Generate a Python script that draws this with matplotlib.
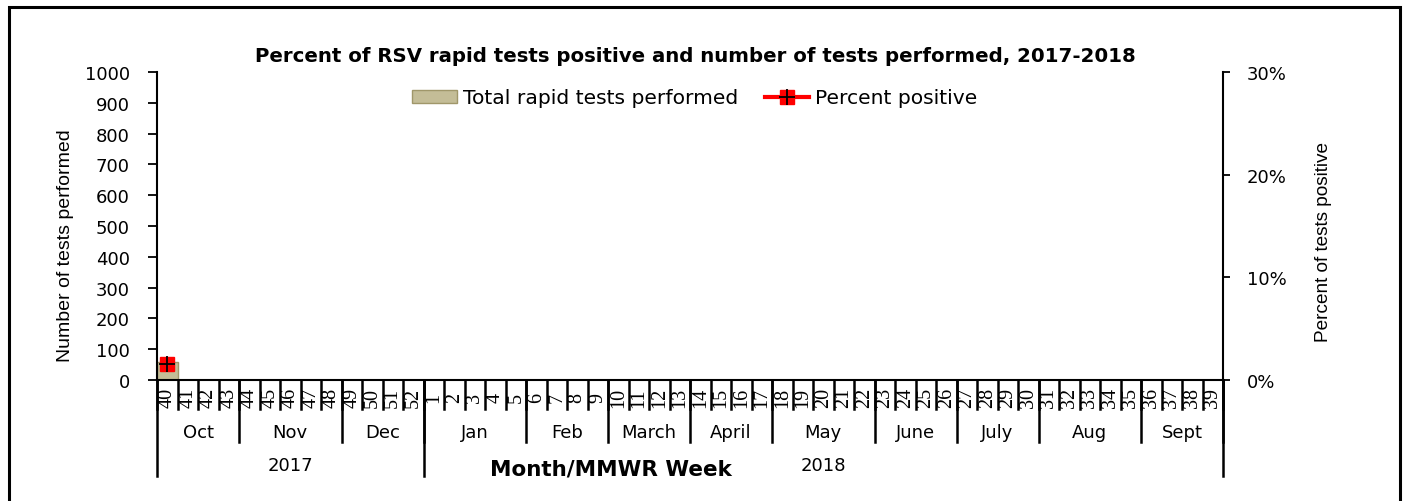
import numpy as np
import matplotlib
matplotlib.use("Agg")
import matplotlib.pyplot as plt
from matplotlib.patches import Rectangle
from matplotlib.legend_handler import HandlerTuple

# ---------------- data ----------------
weeks = [str(w) for w in range(40, 53)] + [str(w) for w in range(1, 40)]
tests_performed = [59] + [np.nan] * 51
percent_positive = [1.6] + [np.nan] * 51
months = ["Oct", "Nov", "Dec", "Jan", "Feb", "March", "April", "May",
          "June", "July", "Aug", "Sept"]
month_weeks = [4, 5, 4, 5, 4, 4, 4, 5, 4, 4, 5, 4]
years = ["2017", "2018"]
year_weeks = [13, 39]
left_ticks = list(range(0, 1001, 100))
right_ticks = [0, 10, 20, 30]

title = "Percent of RSV rapid tests positive and number of tests performed, 2017-2018"

# ---------------- figure ----------------
W, H = 1403, 502
fig = plt.figure(figsize=(W / 100, H / 100), dpi=100)
fig.patch.set_facecolor("white")

# outer frame
fig.add_artist(Rectangle((9 / W, -0.1), (1400 - 9) / W, 1.1 - 8 / H,
                         transform=fig.transFigure, fill=False,
                         edgecolor="black", linewidth=2.2))

ax_l, ax_r, ax_t, ax_b = 157, 1223, 73, 381
ax = fig.add_axes([ax_l / W, 1 - ax_b / H, (ax_r - ax_l) / W, (ax_b - ax_t) / H])
ax2 = ax.twinx()

n = len(weeks)
x = np.arange(n)
bars = ax.bar(x, tests_performed, width=1.0, color="#C4BD97",
              edgecolor="#A0976A", linewidth=1.0, label="Total rapid tests performed")
ax.set_xlim(-0.5, n - 0.5)
ax.set_ylim(0, 1000)
ax.set_yticks(left_ticks)
ax.set_yticklabels([str(t) for t in left_ticks], fontsize=13, family="DejaVu Sans")
ax.tick_params(axis="y", direction="out", length=6.5, width=1.3, pad=13)
ax.set_xticks([])

for s in ["top", "right"]:
    ax.spines[s].set_visible(False)
    ax2.spines[s].set_visible(False)
ax2.spines["left"].set_visible(False)
ax2.spines["bottom"].set_visible(False)
ax.spines["left"].set_linewidth(1.5)
ax.spines["bottom"].set_linewidth(1.5)
ax2.spines["right"].set_visible(True)
ax2.spines["right"].set_linewidth(1.5)

l1, = ax2.plot(x, percent_positive, color="red", linewidth=3, marker="s",
               markersize=10, markerfacecolor="red", markeredgecolor="red")
l2, = ax2.plot(x, percent_positive, linestyle="none", marker="+",
               markersize=11, markeredgecolor="black", markeredgewidth=1.3)
ax2.set_ylim(0, 30)
ax2.set_yticks(right_ticks)
ax2.set_yticklabels([f"{t}%" for t in right_ticks], fontsize=13, family="DejaVu Sans")
ax2.tick_params(axis="y", direction="out", length=5, width=1.3, pad=12)

# week labels and separators
tr = ax.get_xaxis_transform()
for i, w in enumerate(weeks):
    ax.text(i, -0.055, w, transform=tr, rotation=90, ha="center", va="center",
            fontsize=14.5, family="Liberation Serif")
for i in range(n + 1):
    ax.plot([i - 0.5, i - 0.5], [0, -0.094], transform=tr, color="black",
            lw=1.8, clip_on=False)

# month labels and separators
start = 0
for m, c in zip(months, month_weeks):
    ax.text(start + c / 2 - 0.5, -0.169, m, transform=tr, ha="center", va="center",
            fontsize=13, family="DejaVu Sans")
    start += c
    ax.plot([start - 0.5, start - 0.5], [0, -0.201], transform=tr, color="black",
            lw=1.8, clip_on=False)
ax.plot([-0.5, -0.5], [0, -0.312], transform=tr, color="black", lw=1.8, clip_on=False)

# year labels and separators
start = 0
for y, c in zip(years, year_weeks):
    ax.text(start + c / 2 - 0.5, -0.275, y, transform=tr, ha="center", va="center",
            fontsize=13, family="DejaVu Sans")
    start += c
    ax.plot([start - 0.5, start - 0.5], [0, -0.312], transform=tr, color="black",
            lw=1.8, clip_on=False)

# axis titles
fig.text(611 / W, 1 - 470 / H, "Month/MMWR Week", ha="center", va="center",
         fontsize=15.5, fontweight="bold", family="DejaVu Sans")
fig.text(65 / W, 1 - 246 / H, "Number of tests performed", rotation=90,
         ha="center", va="center", fontsize=14, family="Liberation Sans")
fig.text(1324 / W, 1 - 242 / H, "Percent of tests positive", rotation=90,
         ha="center", va="center", fontsize=13.7, family="Liberation Sans")
fig.text(695 / W, 1 - 57 / H, title, ha="center", va="center",
         fontsize=14.2, fontweight="bold", family="DejaVu Sans")

# legend
leg = fig.legend([bars, (l1, l2)], ["Total rapid tests performed", "Percent positive"],
                 loc="center", bbox_to_anchor=(695 / W, 1 - 99 / H), ncol=2,
                 frameon=False, fontsize=14.6, handlelength=2.2, handleheight=0.6,
                 columnspacing=1.3, handletextpad=0.3,
                 handler_map={tuple: HandlerTuple(ndivide=1)})

fig.savefig("out.png", dpi=100, facecolor="white")
